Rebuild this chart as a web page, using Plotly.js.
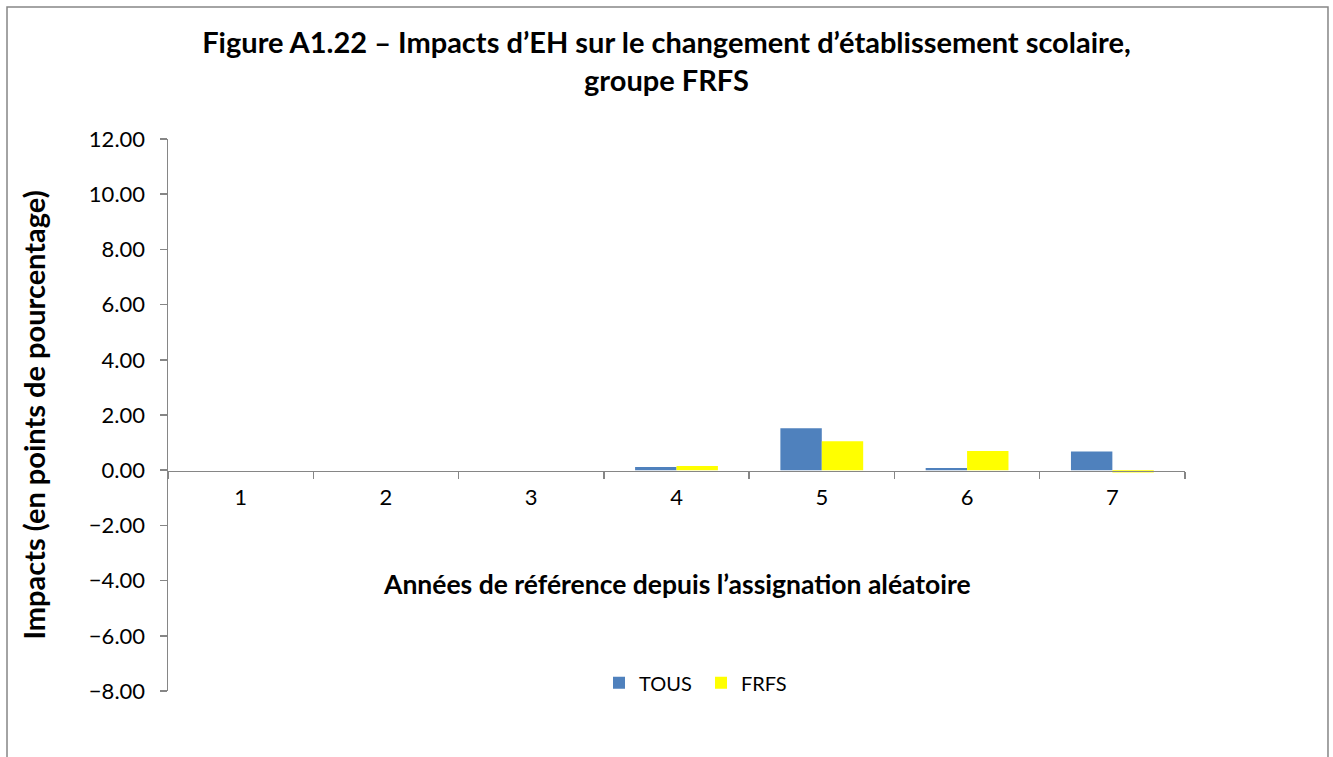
<!DOCTYPE html>
<html>
<head>
<meta charset="utf-8">
<script src="https://cdn.plot.ly/plotly-3.0.1.min.js"></script>
<style>html,body{margin:0;padding:0;background:#fff;}#chart{width:1333px;height:757px;}</style>
</head>
<body>
<div id="chart"></div>
<script>
const categories = ['1', '2', '3', '4', '5', '6', '7'];
const tousValues = [0, 0, 0, 0.12, 1.52, 0.08, 0.68];
const frfsValues = [0, 0, 0, 0.15, 1.05, 0.70, -0.08];
const seriesNames = ['TOUS', 'FRFS'];
const yTickVals = [-8, -6, -4, -2, 0, 2, 4, 6, 8, 10, 12];

const FONT = 'Lato, "Open Sans", sans-serif';
const GREY = '#868686';

const traces = [
  {type: 'bar', name: seriesNames[0], x: categories, y: tousValues, marker: {color: '#4F81BD'}},
  {type: 'bar', name: seriesNames[1], x: categories, y: frfsValues, marker: {color: '#FFFF00'}}
];

const layout = {
  width: 1333, height: 757,
  paper_bgcolor: '#fff', plot_bgcolor: '#fff',
  margin: {l: 168, r: 148, t: 139, b: 66},
  barmode: 'group', bargap: 0.43, bargroupgap: 0,
  font: {family: FONT, color: '#000'},
  title: {
    text: '<b>Figure A1.22 – Impacts d’EH sur le changement d’établissement scolaire,<br>groupe FRFS</b>',
    font: {family: FONT, size: 29, color: '#000'},
    x: 0.5, xanchor: 'center', yref: 'container', y: 0.93, yanchor: 'middle'
  },
  xaxis: {
    type: 'category',
    anchor: 'free', position: 0.3986,
    showline: true, linecolor: GREY, linewidth: 1.5,
    ticks: 'outside', tickson: 'boundaries', ticklen: 7, tickcolor: GREY, tickwidth: 1.5,
    ticklabelstandoff: 6,
    tickfont: {family: FONT, size: 22, color: '#000'},
    showgrid: false, zeroline: false, fixedrange: true
  },
  yaxis: {
    range: [-8, 12], tickvals: yTickVals, tickformat: '.2f',
    showline: true, linecolor: GREY, linewidth: 1.5,
    ticks: 'outside', ticklen: 7, tickcolor: GREY, tickwidth: 1.5,
    ticklabelstandoff: 10,
    tickfont: {family: FONT, size: 22, color: '#000'},
    showgrid: false, zeroline: false,
    title: {text: '<b>Impacts (en points de pourcentage)</b>', font: {family: FONT, size: 29, color: '#000'}, standoff: 34}
  },
  legend: {
    orientation: 'h', x: 0.4238, xanchor: 'left', y: 0.015, yanchor: 'middle',
    font: {family: FONT, size: 20, color: '#000'}, traceorder: 'normal',
    entrywidth: 57, entrywidthmode: 'pixels'
  },
  annotations: [{
    xref: 'paper', yref: 'paper', x: 0.5, y: 0.193, xanchor: 'center', yanchor: 'middle',
    text: '<b>Années de référence depuis l’assignation aléatoire</b>', showarrow: false,
    font: {family: FONT, size: 26.5, color: '#000'}
  }],
  shapes: [{
    type: 'rect', xref: 'paper', yref: 'paper', x0: -0.1583, x1: 1.1406, y0: -0.2, y1: 1.2391,
    line: {color: GREY, width: 1.5}, fillcolor: 'rgba(0,0,0,0)', layer: 'below'
  }]
};

Plotly.newPlot('chart', traces, layout, {displayModeBar: false, staticPlot: true});
</script>
</body>
</html>
